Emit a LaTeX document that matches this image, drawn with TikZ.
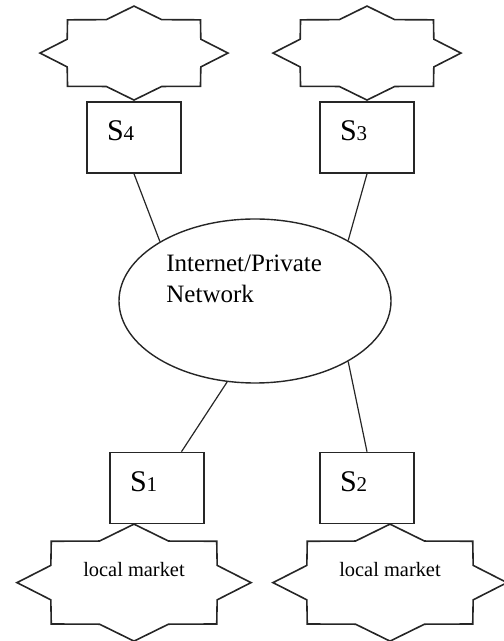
\documentclass[tikz,border=0pt]{standalone}
\usepackage{fontspec}
\setmainfont{Liberation Serif}
\usetikzlibrary{shapes.geometric,positioning}

\newcommand{\sitelbl}[1]{{\fontsize{15}{18}\selectfont S}{\fontsize{10.5}{12}\selectfont #1}}

\begin{document}
\begin{tikzpicture}[
	x=0.5pt, y=0.5pt,
	site/.style={
		draw=black!85, line width=0.8pt,
		text width=27pt, align=left,
		inner xsep=10pt, inner ysep=0pt,
		text height=19.5pt, text depth=16pt,
	},
	market/.style={
		draw=black!85, line width=0.8pt,
		star, star points=8, star point ratio=1.3,
		inner sep=0pt, xscale=2,
	},
	link/.style={draw=black!85, line width=0.6pt},
	mtext/.style={font=\fontsize{10.2}{12}\selectfont, anchor=base},
]
\useasboundingbox (0,0) rectangle (503,641);

% Network in the middle
\node [ellipse, draw=black!85, line width=0.7pt,
	minimum width=136pt, minimum height=82pt, inner sep=0pt] (net) at (255,340) {};
\node [anchor=north west, inner sep=0pt, align=left,
	font=\fontsize{12.5}{15.5}\selectfont] (nettext) at (166,386) {Internet/Private\\Network};

% Sites
\node [site] (s4) at (134,503.5) {\sitelbl{4}};
\node [site] (s3) at (367,503.5) {\sitelbl{3}};
\node [site] (s1) at (157,153) {\sitelbl{1}};
\node [site] (s2) at (367,153) {\sitelbl{2}};

% Markets
\node [market, minimum size=47pt, above=0pt of s4] (m4) {};
\node [market, minimum size=47pt, above=0pt of s3] (m3) {};
\node [market, minimum size=58.5pt, anchor=north] (m1) at (134,118) {};
\node [market, minimum size=58.5pt, anchor=north] (m2) at (390,118) {};
\node [mtext] (l1) at ([yshift=3pt]m1.center) {local market};
\node [mtext] (l2) at ([yshift=3pt]m2.center) {local market};

% Links to the network
\draw [link] (s4.south) -- (net.148.6);
\draw [link] (s3.south) -- (net.33.8);
\draw [link] (s1.56.7) -- (net.251);
\draw [link] (s2.north) -- (net.-33.7);

\end{tikzpicture}
\end{document}
